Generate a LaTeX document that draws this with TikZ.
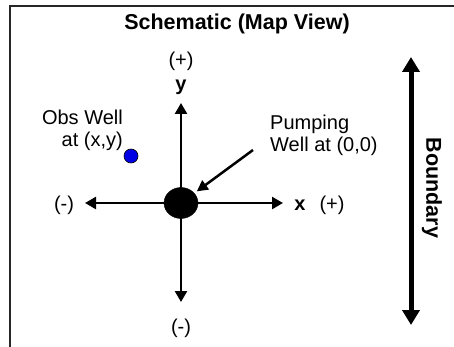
\documentclass[tikz,border=0pt]{standalone}
\usepackage{fontspec}
\setmainfont{Liberation Sans}
\usetikzlibrary{arrows.meta,shapes.geometric}

\begin{document}
\begin{tikzpicture}[x=1pt, y=-1pt,
  lbl/.style={inner sep=0pt, font=\fontsize{20}{22}\selectfont},
  blbl/.style={inner sep=0pt, font=\fontsize{21.5}{24}\selectfont\bfseries},
  axis/.style={line width=2.5pt, {Triangle[length=11pt,width=12pt]}-{Triangle[length=11pt,width=12pt]}},
  bound/.style={line width=5pt, {Triangle[length=15pt,width=17pt]}-{Triangle[length=15pt,width=17pt]}},
  pointer/.style={line width=2.5pt, -{Triangle[length=11pt,width=11pt]}, shorten >=3pt}]

\colorlet{cObs}{blue!90!black}

%% Geometry: pixel grid of the map view, origin of the axes at the pumping well.
\def\ox{181}
\def\oy{203}

\useasboundingbox (0,0) rectangle (454,347);

%% ---------- frame (only top and left edges show) ----------
\draw[black!85, line width=2pt] (10,347) -- (10,6) -- (460,6);

%% ---------- title ----------
\node[blbl] (title) at (237,24) {Schematic (Map View)};

%% ---------- axes ----------
\coordinate (ytop) at (\ox,103);
\coordinate (ybot) at (\ox,302);
\coordinate (xneg) at (85,\oy);
\coordinate (xpos) at (283,\oy);
\draw[axis] (ybot) -- (ytop);
\draw[axis] (xneg) -- (xpos);

\node[lbl]  (yplus)  at (\ox,61)  {(+)};
\node[blbl, font=\fontsize{20}{22}\selectfont\bfseries] (ylbl) at (\ox,87) {y};
\node[lbl]  (yminus) at (\ox,328) {(-)};
\node[lbl]  (xminus) at (64,205)  {(-)};
\node[blbl, font=\fontsize{20}{22}\selectfont\bfseries] (xlbl) at (300,205) {x};
\node[lbl]  (xplus)  at (332,205) {(+)};

%% ---------- wells ----------
\node[ellipse, fill=black, draw=black, minimum width=34pt, minimum height=31pt,
  inner sep=0pt] (pw) at (\ox,\oy) {};
\node[circle, fill=cObs, draw=black, line width=0.6pt, minimum size=14pt,
  inner sep=0pt] (obs) at (131,156) {};

\node[lbl, anchor=north east, align=right] (obslbl) at (123,110) {Obs Well\\at (x,y)};
\node[lbl, anchor=north west, align=left] (pwlbl) at (270,115) {Pumping\\Well at (0,0)};

\coordinate (pwtail) at (253,150);
\draw[pointer] (pwtail) -- (pw);

%% ---------- boundary ----------
\coordinate (btop) at (411,57);
\coordinate (bbot) at (411,325);
\draw[bound] (bbot) -- (btop);
\node[blbl, rotate=-90] (boundlbl) at (432,188) {Boundary};

\end{tikzpicture}
\end{document}
